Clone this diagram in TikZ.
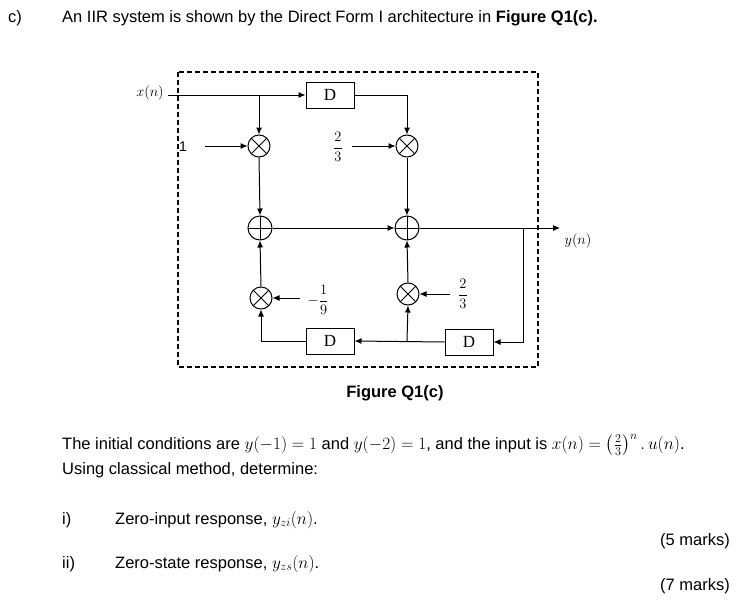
\documentclass[tikz,border=0pt]{standalone}
\usepackage{amsmath}
\usepackage{fontspec}
\setmainfont{Liberation Sans}
\newfontfamily\serifD{Liberation Serif}
\usetikzlibrary{arrows.meta}
\begin{document}
\begin{tikzpicture}[x=1pt,y=-1pt,
  txt/.style={anchor=west,inner sep=0pt,font=\fontsize{16.5}{19}\selectfont},
  dbox/.style={draw,minimum width=48pt,minimum height=26pt,inner sep=0pt,font=\fontsize{17}{18}\serifD},
  mult/.style={draw,circle,minimum size=22pt,inner sep=0pt,path picture={\draw (path picture bounding box.north west)--(path picture bounding box.south east) (path picture bounding box.north east)--(path picture bounding box.south west);}},
  addr/.style={draw,circle,minimum size=24pt,inner sep=0pt,path picture={\draw (path picture bounding box.north)--(path picture bounding box.south) (path picture bounding box.east)--(path picture bounding box.west);}},
  lbl/.style={inner sep=1pt,font=\fontsize{14}{16}\selectfont},
  ar/.style={-{Latex[length=7pt,width=6pt]}},
  thin/.style={line width=1pt}]
\useasboundingbox (0,0) rectangle (743,602);
\draw[dashed,line width=1.2pt,dash pattern=on 5pt off 3pt] (178,72) rectangle (538,367);
\node[txt] (c) at (8,18) {c)};
\node[txt] (h) at (62,18) {An IIR system is shown by the Direct Form I architecture in \textbf{Figure Q1(c).}};
\node[lbl] (xn) at (150,93) {$x(n)$};
\coordinate (xs) at (168,95);
\coordinate (xj) at (259,95);
\node[dbox,thin] (d1) at (330,95) {D};
\node[mult,thin] (m1) at (259,146) {};
\node[mult,thin] (m2) at (407,146) {};
\node[addr,thin] (a1) at (260,228) {};
\node[addr,thin] (a2) at (407,228) {};
\node[mult,thin] (m3) at (261,298) {};
\node[mult,thin] (m4) at (408,294) {};
\node[dbox,thin] (d2) at (330,341) {D};
\node[dbox,thin] (d3) at (469,342) {D};
\node[lbl] (one) at (183,147) {1};
\node[lbl] (k1) at (338,147) {$\dfrac{2}{3}$};
\node[lbl] (k2) at (318,300) {$-\dfrac{1}{9}$};
\node[lbl] (k3) at (463,294) {$\dfrac{2}{3}$};
\node[lbl] (yn) at (578,241) {$y(n)$};
\coordinate (yo) at (560,228);
\coordinate (tap) at (523,228);
\coordinate (mj) at (407,341);
\begin{scope}[thin]
\draw[ar] (xs) -- (d1.west);
\draw[ar] (xj) -- (m1.north);
\draw[ar] (d1.east) -| (m2.north);
\draw[ar] (205,146) -- (m1.west);
\draw[ar] (352,146) -- (m2.west);
\draw[ar] (m1.south) -- (a1.north);
\draw[ar] (m2.south) -- (a2.north);
\draw[ar] (a1.east) -- (a2.west);
\draw[ar] (a2.east) -- (yo);
\draw[ar] (tap) |- (d3.east);
\draw[ar] (d3.west) -- (d2.east);
\draw[ar] (mj) -- (m4.south);
\draw[ar] (d2.west) -| (m3.south);
\draw[ar] (m3.north) -- (a1.south);
\draw[ar] (m4.north) -- (a2.south);
\draw[ar] (300,298) -- (m3.east);
\draw[ar] (450,294) -- (m4.east);
\end{scope}
\node[font=\fontsize{16.5}{19}\selectfont\bfseries] (fig) at (395,393) {Figure Q1(c)};
\node[txt] (l1) at (62,445) {The initial conditions are $y(-1)=1$ and $y(-2)=1$, and the input is $x(n)=\left(\frac{2}{3}\right)^{n}.\,u(n)$.};
\node[txt] (l2) at (62,470) {Using classical method, determine:};
\node[txt] (i) at (62,520) {i)};
\node[txt] (ia) at (115,520) {Zero-input response, $y_{zi}(n)$.};
\node[txt,anchor=east] (m5) at (730,541) {(5 marks)};
\node[txt] (ii) at (62,564) {ii)};
\node[txt] (iia) at (115,564) {Zero-state response, $y_{zs}(n)$.};
\node[txt,anchor=east] (m7) at (730,586) {(7 marks)};
\end{tikzpicture}
\end{document}
